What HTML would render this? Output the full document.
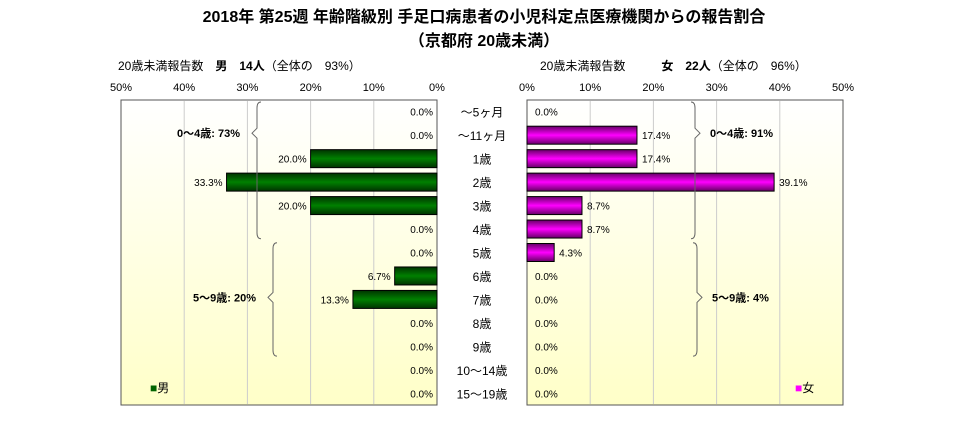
<!DOCTYPE html>
<html><head><meta charset="utf-8"><style>
body{margin:0;background:#fff;}
svg text{font-family:"Liberation Sans","Noto Sans CJK JP",sans-serif;}
</style></head><body>
<svg width="968" height="443" xmlns="http://www.w3.org/2000/svg">
<defs>
<linearGradient id="bg" x1="0" y1="0" x2="0" y2="1"><stop offset="0" stop-color="#ffffff"/><stop offset="1" stop-color="#ffffc8"/></linearGradient>
<linearGradient id="gm" x1="0" y1="0" x2="0" y2="1"><stop offset="0" stop-color="#003300"/><stop offset="0.5" stop-color="#008000"/><stop offset="1" stop-color="#003300"/></linearGradient>
<linearGradient id="gf" x1="0" y1="0" x2="0" y2="1"><stop offset="0" stop-color="#660066"/><stop offset="0.5" stop-color="#ff00ff"/><stop offset="1" stop-color="#660066"/></linearGradient>
</defs>
<text x="484" y="22" font-size="16" font-weight="bold" text-anchor="middle">2018年 第25週 年齢階級別 手足口病患者の小児科定点医療機関からの報告割合</text>
<text x="484" y="46" font-size="16" font-weight="bold" text-anchor="middle">（京都府 20歳未満）</text>
<text x="118" y="70" font-size="12">20歳未満報告数　<tspan font-weight="bold">男　14人</tspan>（全体の　93%）</text>
<text x="540" y="70" font-size="12">20歳未満報告数　　　<tspan font-weight="bold">女　22人</tspan>（全体の　96%）</text>
<rect x="121" y="100" width="316" height="305" fill="url(#bg)" stroke="#555"/>
<rect x="527" y="100" width="316" height="305" fill="url(#bg)" stroke="#555"/>
<g id="g"></g>
<text x="150" y="392" font-size="12"><tspan fill="#006400">■</tspan>男</text>
<text x="795" y="392" font-size="12"><tspan fill="#ff00ff">■</tspan>女</text>
</svg>
<script>
const categories=["～5ヶ月","～11ヶ月","1歳","2歳","3歳","4歳","5歳","6歳","7歳","8歳","9歳","10～14歳","15～19歳"];
const maleValues=[0,0,20.0,33.3,20.0,0,0,6.7,13.3,0,0,0,0];
const femaleValues=[0,17.4,17.4,39.1,8.7,8.7,4.3,0,0,0,0,0,0];
const tickLabels=[0,10,20,30,40,50];
const groupLabelsM=["0～4歳: 73%","5～9歳: 20%"];
const groupLabelsF=["0～4歳: 91%","5～9歳: 4%"];
const NS="http://www.w3.org/2000/svg",g=document.getElementById('g');
const top0=100,rowH=305/categories.length,scale=316/50;
const xm=v=>437-v*scale, xf=v=>527+v*scale, yc=i=>top0+rowH*(i+0.5);
function mk(t,a,txt){const e=document.createElementNS(NS,t);for(const k in a)e.setAttribute(k,a[k]);if(txt!=null)e.textContent=txt;g.appendChild(e);return e;}
tickLabels.forEach(t=>{
 if(t>0&&t<50){let l=mk('line',{x1:xm(t),x2:xm(t),y1:101,y2:404,stroke:'#ccc'});
 
 
 l=mk('line',{x1:xf(t),x2:xf(t),y1:101,y2:404,stroke:'#ccc'});
 
 }
 let e=mk('text',{x:xm(t),y:91,'font-size':11,'text-anchor':'middle'},t+'%');
 
 
 e=mk('text',{x:xf(t),y:91,'font-size':11,'text-anchor':'middle'},t+'%');
 
 
});
categories.forEach((c,i)=>{
 const y=yc(i),h=18;
 let e=mk('text',{x:482,y:y+5,'font-size':12,'text-anchor':'middle'},c);
 
 
 const m=maleValues[i];
 if(m>0){e=mk('rect',{x:xm(m),y:y-h/2,width:m*scale,height:h,fill:'url(#gm)',stroke:'#000'});
 
 }
 e=mk('text',{x:(m>0?xm(m)-4:433),y:y+4,'font-size':10,'text-anchor':'end'},m.toFixed(1)+'%');
 
 
 const f=femaleValues[i];
 if(f>0){e=mk('rect',{x:527,y:y-h/2,width:f*scale,height:h,fill:'url(#gf)',stroke:'#000'});
 
 }
 e=mk('text',{x:(f>0?xf(f)+5:535),y:y+4,'font-size':10},f.toFixed(1)+'%');
 
 
});
function brace(x,y1,y2,m,dir){
 return `M${x+4*dir} ${y1} Q${x} ${y1} ${x} ${y1+6} L${x} ${m-5} L${x-5*dir} ${m} L${x} ${m+5} L${x} ${y2-6} Q${x} ${y2} ${x+4*dir} ${y2}`;}
// [startRow,endRow,maleX,femaleX,tipRow]
[[0,5,257,695,1],[6,10,273,697,8]].forEach((b,k)=>{
 const y1=top0+rowH*b[0]+2,y2=top0+rowH*(b[1]+1)-2,tip=yc(b[4])-2;
 let e=mk('path',{d:brace(b[2],y1,y2,tip,1),fill:'none',stroke:'#666'});
 
 
 e=mk('text',{x:b[2]-17,y:tip+4,'font-size':11,'font-weight':'bold','text-anchor':'end'},groupLabelsM[k]);
 
 
 e=mk('path',{d:brace(b[3],y1,y2,tip,-1),fill:'none',stroke:'#666'});
 
 
 e=mk('text',{x:b[3]+15,y:tip+4,'font-size':11,'font-weight':'bold'},groupLabelsF[k]);
 
 
});
</script>
</body></html>
